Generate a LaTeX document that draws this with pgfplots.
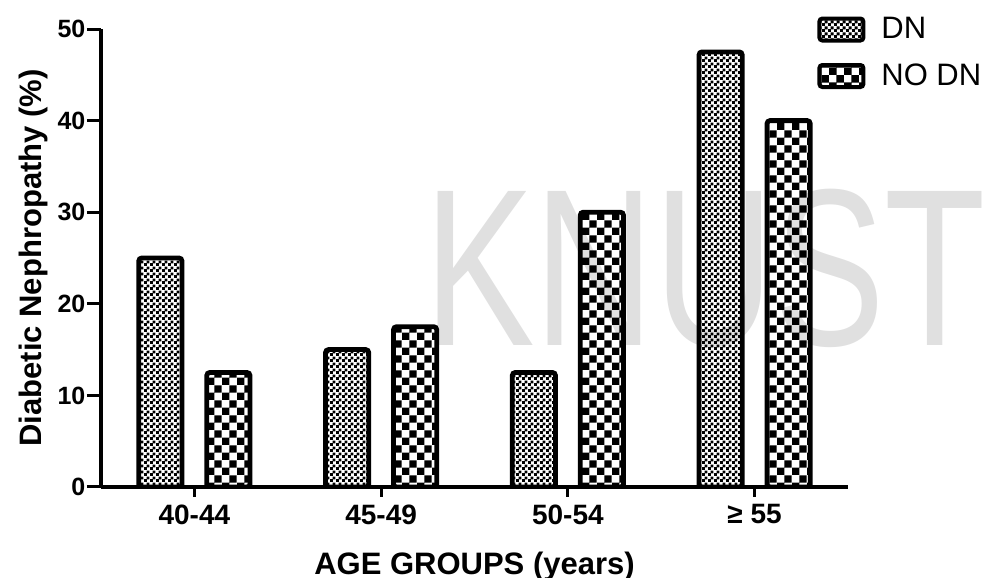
\documentclass[border=0pt]{standalone}
\usepackage{pgfplots}
\pgfplotsset{compat=1.18}
\usepackage{fontspec}
\setmainfont{Liberation Sans}
\usetikzlibrary{patterns}
\pgfdeclarepatternformonly{finecheck}{\pgfqpoint{0pt}{0pt}}{\pgfqpoint{3pt}{3pt}}{\pgfqpoint{3pt}{3pt}}{%
  \pgfpathrectangle{\pgfqpoint{0pt}{0pt}}{\pgfqpoint{1.65pt}{1.65pt}}%
  \pgfpathrectangle{\pgfqpoint{1.5pt}{1.5pt}}{\pgfqpoint{1.65pt}{1.65pt}}%
  \pgfusepath{fill}}
\pgfdeclarepatternformonly{coarsecheck}{\pgfqpoint{0pt}{0pt}}{\pgfqpoint{7.4pt}{7.4pt}}{\pgfqpoint{7.4pt}{7.4pt}}{%
  \pgfpathrectangle{\pgfqpoint{0pt}{0pt}}{\pgfqpoint{3.75pt}{3.75pt}}%
  \pgfpathrectangle{\pgfqpoint{3.7pt}{3.7pt}}{\pgfqpoint{3.75pt}{3.75pt}}%
  \pgfusepath{fill}}
\newcommand\xtfont{\fontsize{14}{16}\selectfont\bfseries}
\newcommand\ytfont{\fontsize{12.5}{15}\selectfont\bfseries}
\begin{document}
\begin{tikzpicture}
\path[use as bounding box] (0,0) rectangle (492.5pt,289pt);
% watermark
\node[anchor=base west, inner sep=0pt, text=black!12, font=\fontsize{112}{112}\selectfont, xscale=0.74] at (212pt,116pt) {KNUST};
\begin{axis}[
  at={(50.5pt,45.5pt)}, anchor=south west,
  scale only axis, width=373.5pt, height=229pt,
  xmin=-0.5, xmax=3.5, ymin=0, ymax=50,
  axis lines*=left,
  axis line style={-, line width=1.7pt, black},
  ybar,
  xtick={0,1,2,3},
  xticklabels={\xtfont 40-44,\xtfont 45-49,\xtfont 50-54,{\xtfont ≥ 55}},
  ytick={0,10,20,30,40,50},
  yticklabels={\ytfont 0,\ytfont 10,\ytfont 20,\ytfont 30,\ytfont 40,\ytfont 50},
  tick align=outside,
  tick style={line width=1.5pt, black},
  ytick style={/pgfplots/major tick length=7pt},
  xtick style={/pgfplots/major tick length=5pt},
  x tick label style={yshift=-1pt},
  xlabel={AGE GROUPS (years)},
  ylabel={Diabetic Nephropathy (\%)},
  xlabel style={at={(axis description cs:0.5,-0.19)}, anchor=base, font=\fontsize{15.5}{18}\selectfont\bfseries},
  ylabel style={at={(axis description cs:-0.0803,0.5)}, anchor=base, font=\fontsize{15.5}{18}\selectfont\bfseries},
  legend style={at={(axis description cs:0.9585,1.035)}, anchor=north west, draw=none, fill=none,
    font=\fontsize{15.5}{18}\selectfont, row sep=7pt, inner sep=0pt,
    nodes={inner xsep=8pt}},
  legend cell align=left,
  bar width=21.6pt,
]
\addplot[draw=black, line width=2.4pt, rounded corners=1.5pt, pattern=finecheck, bar shift=-17pt,
  legend image code/.code={\draw[line width=2pt, rounded corners=1.5pt, pattern=finecheck] (0pt,-5.5pt) rectangle (22pt,5.5pt);}]
  coordinates {(0,25) (1,15) (2,12.5) (3,47.5)};
\addlegendentry{DN}
\addplot[draw=black, line width=2.4pt, rounded corners=1.5pt, pattern=coarsecheck, bar shift=17pt,
  legend image code/.code={\draw[line width=2pt, rounded corners=1.5pt, pattern=coarsecheck] (0pt,-5.5pt) rectangle (22pt,5.5pt);}]
  coordinates {(0,12.5) (1,17.5) (2,30) (3,40)};
\addlegendentry{NO DN}
\end{axis}
\end{tikzpicture}
\end{document}
